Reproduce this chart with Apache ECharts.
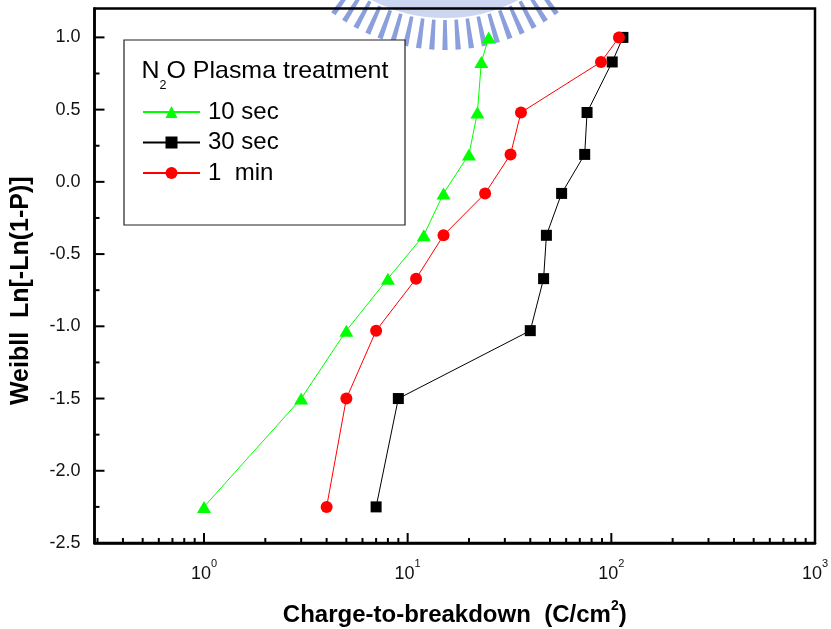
<!DOCTYPE html>
<html>
<head>
<meta charset="utf-8">
<script src="https://cdn.jsdelivr.net/npm/echarts@6/dist/echarts.min.js"></script>
<style>
  html, body { margin: 0; padding: 0; background: #fff; }
  #chart { width: 831px; height: 629px; }
</style>
</head>
<body>
<div id="chart"></div>
<script>
// Weibull plotting positions, shared by every treatment time
const weibullY = [-2.25, -1.50, -1.03, -0.67, -0.37, -0.08, 0.19, 0.48, 0.83, 1.00];
// Charge-to-breakdown (C/cm^2) for each N2O plasma treatment time
const qbd10s = [1, 3, 5, 8, 12, 15, 20, 22, 23, 25];
const qbd30s = [7, 9, 40, 46.5, 48, 57, 74, 76, 101, 114];
const qbd1min = [4, 5, 7, 11, 15, 24, 32, 36, 89, 109];
const seriesNames = ['10 sec', '30 sec', '1  min'];
const legendTitle = '{m|N}{sub|2}{m|O Plasma treatment}';

// Axis ranges and tick values
const xMin = 0.29, xMax = 1000;
const yMin = -2.5, yMax = 1.2;
const xMajorTicks = [1, 10, 100, 1000];
const xMinorTicks = [0.3, 0.4, 0.5, 0.6, 0.7, 0.8, 0.9,
  2, 3, 4, 5, 6, 7, 8, 9,
  20, 30, 40, 50, 60, 70, 80, 90,
  200, 300, 400, 500, 600, 700, 800, 900];
const yMajorTicks = [-2.5, -2.0, -1.5, -1.0, -0.5, 0.0, 0.5, 1.0];
const yMinorTicks = [-2.25, -1.75, -1.25, -0.75, -0.25, 0.25, 0.75];

const FONT = "'Liberation Sans', Arial, Helvetica, sans-serif";

const pairs = (xs) => xs.map((x, i) => [x, weibullY[i]]);

// tick marks: [x, y, kind]  kind 0/1 = bottom major/minor, 2/3 = left major/minor
const tickData = []
  .concat(xMajorTicks.map(v => [v, yMin, 0]))
  .concat(xMinorTicks.map(v => [v, yMin, 1]))
  .concat(yMajorTicks.map(v => [xMin, v, 2]))
  .concat(yMinorTicks.map(v => [xMin, v, 3]));

// decorative emblem in the top margin: a pale ring with radial bars below it
const emblem = [];
(function () {
  const cx = 445, cy = -140;
  emblem.push({
    type: 'arc', silent: true, z: -10,
    shape: { cx, cy, r: 146, startAngle: Math.PI * 0.30, endAngle: Math.PI * 0.70 },
    style: { stroke: '#cdd6f1', lineWidth: 24, fill: null }
  });
  for (let a = 54; a <= 126; a += 4) {
    const t = a * Math.PI / 180;
    const r0 = 160, r1 = 190;
    const hw0 = 0.011, hw1 = 0.014;
    emblem.push({
      type: 'polygon', silent: true, z: -10,
      shape: {
        points: [
          [cx + r0 * Math.cos(t - hw0), cy + r0 * Math.sin(t - hw0)],
          [cx + r1 * Math.cos(t - hw1), cy + r1 * Math.sin(t - hw1)],
          [cx + r1 * Math.cos(t + hw1), cy + r1 * Math.sin(t + hw1)],
          [cx + r0 * Math.cos(t + hw0), cy + r0 * Math.sin(t + hw0)]
        ]
      },
      style: { fill: '#8a9fdb' }
    });
  }
})();

const chart = echarts.init(document.getElementById('chart'), null, { renderer: 'canvas' });

chart.setOption({
  animation: false,
  backgroundColor: '#fff',
  grid: {
    left: 94.5, right: 16, top: 8.5, bottom: 86,
    containLabel: false, outerBoundsMode: 'none',
    show: true, borderColor: '#000', borderWidth: 2.5, backgroundColor: 'transparent'
  },
  xAxis: {
    type: 'log', logBase: 10, min: xMin, max: xMax,
    axisLine: { show: true, onZero: false, lineStyle: { color: '#000', width: 2.5 } },
    axisTick: { show: false },
    minorTick: { show: false },
    splitLine: { show: false },
    axisLabel: {
      margin: 15,
      showMinLabel: false,
      formatter: function (v) {
        const e = Math.log10(v);
        const r = Math.round(e);
        if (Math.abs(e - r) > 1e-6) return '';
        return '{b|10}{s|' + r + '}';
      },
      rich: {
        b: { fontSize: 18, lineHeight: 25, fontFamily: FONT, color: '#111', verticalAlign: 'bottom' },
        s: { fontSize: 11, lineHeight: 11, fontFamily: FONT, color: '#111', verticalAlign: 'top' }
      }
    },
    name: '{t|Charge-to-breakdown  (C/cm}{s|2}{t|)}',
    nameLocation: 'middle',
    nameGap: 56,
    nameTextStyle: {
      fontSize: 24, fontWeight: 'bold', fontFamily: FONT, color: '#000',
      rich: {
        t: { fontSize: 24, lineHeight: 28, fontWeight: 'bold', fontFamily: FONT, color: '#000', verticalAlign: 'bottom' },
        s: { fontSize: 14, lineHeight: 14, fontWeight: 'bold', fontFamily: FONT, color: '#000', verticalAlign: 'top' }
      }
    }
  },
  yAxis: {
    type: 'value', min: yMin, max: yMax, interval: 0.5,
    axisLine: { show: true, onZero: false, lineStyle: { color: '#000', width: 2.5 } },
    axisTick: { show: false },
    splitLine: { show: false },
    axisLabel: {
      margin: 14, fontSize: 18, fontFamily: FONT, color: '#111',
      formatter: function (v) {
        if (Math.abs(v * 2 - Math.round(v * 2)) > 1e-6) return '';
        return v.toFixed(1);
      }
    },
    name: 'Weibll  Ln[-Ln(1-P)]',
    nameLocation: 'middle',
    nameGap: 61,
    nameTextStyle: {
      fontSize: 25, fontWeight: 'bold', fontFamily: FONT, color: '#000',
      padding: [0, 30, 0, 0]
    }
  },
  legend: {
    orient: 'vertical',
    left: 142, top: 100,
    padding: 0,
    itemWidth: 57, itemHeight: 15, itemGap: 6.5,
    textStyle: { fontSize: 24, fontFamily: FONT, color: '#000', padding: [0, 0, 0, 3] },
    data: seriesNames,
    z: 6
  },
  graphic: emblem.concat([
    {
      type: 'rect', z: 5, silent: true,
      shape: { x: 124, y: 40, width: 281, height: 185 },
      style: { fill: '#fff', stroke: '#222', lineWidth: 1.2 }
    },
    {
      type: 'text', z: 6, silent: true,
      x: 141.5, y: 59.5, scaleX: 1.04,
      style: {
        text: legendTitle,
        fontSize: 24, fontFamily: FONT, fill: '#000',
        verticalAlign: 'top', align: 'left',
        rich: {
          m: { fontSize: 24, lineHeight: 24, fontFamily: FONT, fill: '#000', verticalAlign: 'top' },
          sub: { fontSize: 12, lineHeight: 12, fontFamily: FONT, fill: '#000', verticalAlign: 'top', padding: [20, 0, 0, 0] }
        }
      }
    }
  ]),
  series: [
    {
      name: seriesNames[0], type: 'line', data: pairs(qbd10s),
      symbol: 'triangle', symbolSize: [14, 12],
      lineStyle: { color: '#00ff00', width: 1 },
      itemStyle: { color: '#00ff00' },
      z: 3
    },
    {
      name: seriesNames[1], type: 'line', data: pairs(qbd30s),
      symbol: 'rect', symbolSize: 11,
      lineStyle: { color: '#000000', width: 1 },
      itemStyle: { color: '#000000' },
      z: 3
    },
    {
      name: seriesNames[2], type: 'line', data: pairs(qbd1min),
      symbol: 'circle', symbolSize: 12,
      lineStyle: { color: '#ff0000', width: 1 },
      itemStyle: { color: '#ff0000' },
      z: 3
    },
    {
      type: 'custom', silent: true, z: 4,
      coordinateSystem: 'cartesian2d',
      encode: { x: 0, y: 1 },
      data: tickData,
      renderItem: function (params, api) {
        const kind = api.value(2);
        const p = api.coord([api.value(0), api.value(1)]);
        const len = (kind === 0 || kind === 2) ? 10 : 5;
        const shape = kind < 2
          ? { x1: p[0], y1: p[1], x2: p[0], y2: p[1] - len }
          : { x1: p[0], y1: p[1], x2: p[0] + len, y2: p[1] };
        return { type: 'line', shape: shape, style: { stroke: '#000', lineWidth: 2 } };
      }
    }
  ]
});
</script>
</body>
</html>
